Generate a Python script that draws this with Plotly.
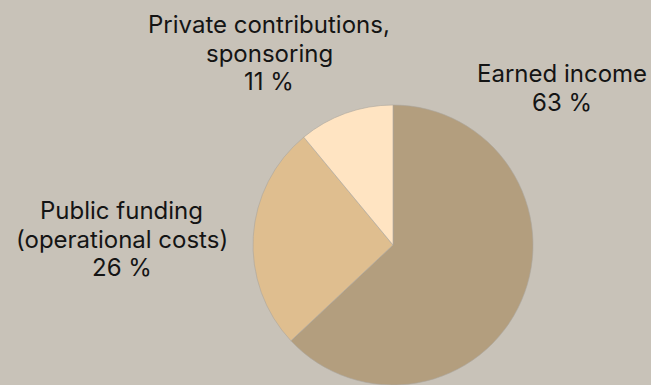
import plotly.graph_objects as go

# Revenue structure
categories = ["Earned income", "Public funding", "Private contributions"]
label_lines = [
    ["Earned income"],
    ["Public funding", "(operational costs)"],
    ["Private contributions,", "sponsoring"],
]
shares = [63, 26, 11]
slice_colors = ["#B39E7E", "#DFBE8F", "#FFE4C2"]

W, H = 651, 385
BG = "#C8C2B8"
FONT = "Inter, Roboto, sans-serif"
FSIZE = 24
LINE_GAP = 28.5

# Pie placement in pixels
cx, cy, r = 393, 245, 140

fig = go.Figure(
    go.Pie(
        labels=categories,
        values=shares,
        sort=False,
        direction="clockwise",
        rotation=0,
        textinfo="none",
        hoverinfo="label+percent",
        marker=dict(colors=slice_colors, line=dict(color="#ABA69D", width=0.6)),
        domain=dict(
            x=[(cx - r) / W, (cx + r) / W],
            y=[(H - cy - r) / H, (H - cy + r) / H],
        ),
        showlegend=False,
    )
)

# Label block anchors: (center x, baseline y of first line) in pixels
label_anchor = [(561.5, 82), (121.5, 219), (269, 33)]

annotations = []
for lines, share, (ax, ay) in zip(label_lines, shares, label_anchor):
    rows = lines + [f"{share} %"]
    for i, row in enumerate(rows):
        base = ay + i * LINE_GAP
        mid = base - 23.5 * 0.36
        annotations.append(
            dict(
                text=row,
                x=ax / W,
                y=1 - mid / H,
                xref="paper",
                yref="paper",
                xanchor="center",
                yanchor="middle",
                showarrow=False,
                font=dict(family=FONT, size=FSIZE, color="#141414", weight=400),
            )
        )

fig.update_layout(
    width=W,
    height=H,
    margin=dict(l=0, r=0, t=0, b=0),
    paper_bgcolor=BG,
    plot_bgcolor=BG,
    annotations=annotations,
)

fig.write_html("out.html", include_plotlyjs=True, full_html=True)
